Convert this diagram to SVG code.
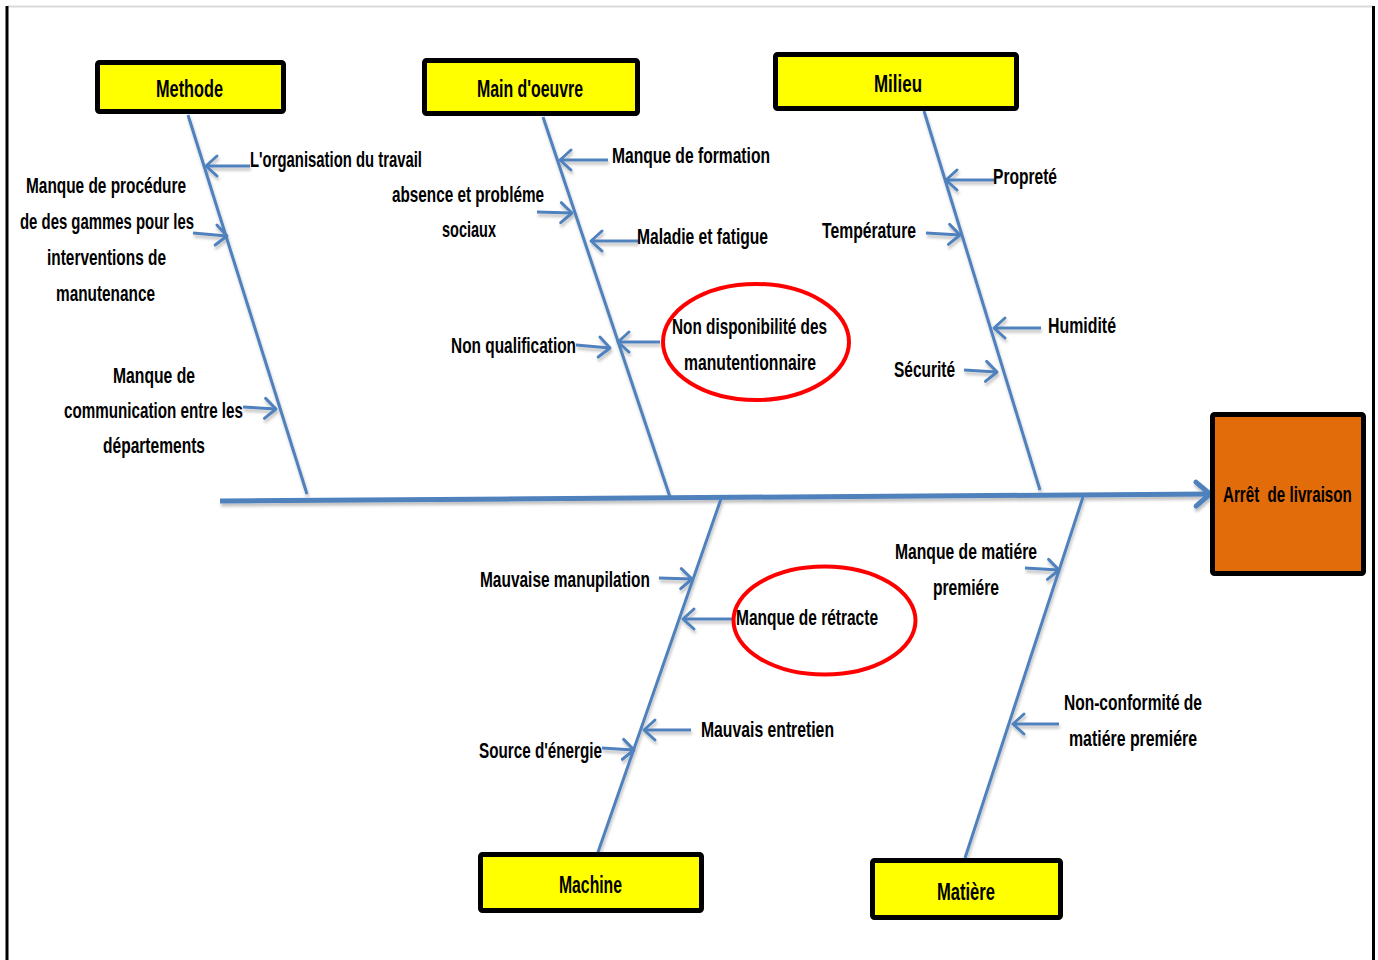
<svg xmlns="http://www.w3.org/2000/svg" width="1378" height="960" viewBox="0 0 1378 960">
  <style>
    .frame { stroke-width: 3; fill: none; }
    .cat { fill: #FFFF00; stroke: #000; stroke-width: 5; }
    .effect { fill: #E36C0A; stroke: #000; stroke-width: 5; }
    .bone { stroke: #4F81BD; stroke-width: 3; fill: none; }
    .spine { stroke: #4F81BD; stroke-width: 5; fill: none; }
    .ring { fill: none; stroke: #FF0000; stroke-width: 4; }
    .t { font-family: "Liberation Sans Narrow", "Liberation Sans", Arial, sans-serif; font-weight: bold; font-size: 22px; fill: #000; }
    .h { font-size: 24px; }
  </style>
  <defs>
    <marker id="tip" markerUnits="userSpaceOnUse" orient="auto" overflow="visible" markerWidth="1" markerHeight="1">
      <path d="M-11,-10 L0,0 L-11,10" fill="none" stroke="#4F81BD" stroke-width="3" stroke-linecap="round" stroke-linejoin="round"/>
    </marker>
    <marker id="tipBig" markerUnits="userSpaceOnUse" orient="auto" overflow="visible" markerWidth="1" markerHeight="1">
      <path d="M-14,-12 L0,0 L-14,12" fill="none" stroke="#4F81BD" stroke-width="5" stroke-linecap="round" stroke-linejoin="round"/>
    </marker>
    <filter id="shadow" x="-5%" y="-5%" width="110%" height="115%">
      <feDropShadow dx="1" dy="3" stdDeviation="1.5" flood-color="#000" flood-opacity="0.25"/>
    </filter>
  </defs>

  <rect width="1378" height="960" fill="#fff"/>

  <!-- page frame -->
  <g id="frame">
    <line x1="8" y1="6.5" x2="1373" y2="6.5" stroke="#D9D9D9" stroke-width="2"/>
    <line class="frame" x1="7" y1="6" x2="7" y2="960" stroke="#000"/>
    <line class="frame" x1="1373.5" y1="6" x2="1373.5" y2="960" stroke="#000" stroke-width="4"/>
  </g>

  <!-- spine, bones and cause arrows -->
  <g id="connectors" filter="url(#shadow)">
    <line class="spine" x1="220" y1="501" x2="1210" y2="494" marker-end="url(#tipBig)"/>

    <line class="bone" x1="188" y1="115" x2="307" y2="494"/>
    <line class="bone" x1="543" y1="117" x2="670" y2="497"/>
    <line class="bone" x1="924" y1="111" x2="1040" y2="490"/>
    <line class="bone" x1="722" y1="496" x2="597" y2="855"/>
    <line class="bone" x1="1083" y1="497" x2="965" y2="858"/>

    <line class="bone" x1="250" y1="166" x2="206" y2="166" marker-end="url(#tip)"/>
    <line class="bone" x1="193" y1="233" x2="227" y2="236" marker-end="url(#tip)"/>
    <line class="bone" x1="243" y1="407" x2="276" y2="409" marker-end="url(#tip)"/>

    <line class="bone" x1="608" y1="160" x2="560" y2="160" marker-end="url(#tip)"/>
    <line class="bone" x1="537" y1="212" x2="572" y2="213" marker-end="url(#tip)"/>
    <line class="bone" x1="638" y1="241" x2="591" y2="241" marker-end="url(#tip)"/>
    <line class="bone" x1="576" y1="345" x2="610" y2="348" marker-end="url(#tip)"/>
    <line class="bone" x1="660" y1="342" x2="618" y2="342" marker-end="url(#tip)"/>

    <line class="bone" x1="994" y1="180" x2="946" y2="180" marker-end="url(#tip)"/>
    <line class="bone" x1="926" y1="233" x2="960" y2="235" marker-end="url(#tip)"/>
    <line class="bone" x1="1041" y1="328" x2="994" y2="328" marker-end="url(#tip)"/>
    <line class="bone" x1="964" y1="370" x2="997" y2="372" marker-end="url(#tip)"/>

    <line class="bone" x1="659" y1="578" x2="692" y2="579" marker-end="url(#tip)"/>
    <line class="bone" x1="732" y1="619" x2="683" y2="619" marker-end="url(#tip)"/>
    <line class="bone" x1="691" y1="730" x2="644" y2="730" marker-end="url(#tip)"/>
    <line class="bone" x1="602" y1="748" x2="634" y2="750" marker-end="url(#tip)"/>

    <line class="bone" x1="1025" y1="568" x2="1059" y2="570" marker-end="url(#tip)"/>
    <line class="bone" x1="1059" y1="724" x2="1013" y2="724" marker-end="url(#tip)"/>
  </g>

  <!-- category boxes -->
  <g id="methode">
    <rect class="cat" x="97.5" y="62.5" width="186" height="49" rx="2"/>
    <text class="t h" x="156" y="97" textLength="67" lengthAdjust="spacingAndGlyphs">Methode</text>
  </g>
  <g id="main-d-oeuvre">
    <rect class="cat" x="424.5" y="60.5" width="213" height="53" rx="2"/>
    <text class="t h" x="477" y="97" textLength="106" lengthAdjust="spacingAndGlyphs">Main d'oeuvre</text>
  </g>
  <g id="milieu">
    <rect class="cat" x="775.5" y="54.5" width="241" height="54" rx="2"/>
    <text class="t h" x="874" y="92" textLength="48" lengthAdjust="spacingAndGlyphs">Milieu</text>
  </g>
  <g id="machine">
    <rect class="cat" x="480.5" y="854.5" width="221" height="56" rx="2"/>
    <text class="t h" x="559" y="893" textLength="63" lengthAdjust="spacingAndGlyphs">Machine</text>
  </g>
  <g id="matiere">
    <rect class="cat" x="872.5" y="860.5" width="188" height="57" rx="2"/>
    <text class="t h" x="937" y="900" textLength="58" lengthAdjust="spacingAndGlyphs">Matière</text>
  </g>

  <!-- effect -->
  <g id="arret-de-livraison">
    <rect class="effect" x="1212.5" y="414.5" width="151" height="159" rx="2"/>
    <text class="t" transform="translate(1223 502) scale(0.7 1)" x="0" y="0" textLength="184" lengthAdjust="spacingAndGlyphs" xml:space="preserve">Arrêt  de livraison</text>
  </g>

  <!-- causes: Methode -->
  <g id="cause-organisation">
    <text class="t" x="250" y="167" textLength="172" lengthAdjust="spacingAndGlyphs">L'organisation du travail</text>
  </g>
  <g id="cause-procedure">
    <text class="t" x="26" y="193" textLength="160" lengthAdjust="spacingAndGlyphs">Manque de procédure</text>
    <text class="t" x="20" y="229" textLength="174" lengthAdjust="spacingAndGlyphs">de des gammes pour les</text>
    <text class="t" x="47" y="265" textLength="119" lengthAdjust="spacingAndGlyphs">interventions de</text>
    <text class="t" x="56" y="301" textLength="99" lengthAdjust="spacingAndGlyphs">manutenance</text>
  </g>
  <g id="cause-communication">
    <text class="t" x="113" y="383" textLength="82" lengthAdjust="spacingAndGlyphs">Manque de</text>
    <text class="t" x="64" y="418" textLength="179" lengthAdjust="spacingAndGlyphs">communication entre les</text>
    <text class="t" x="103" y="453" textLength="102" lengthAdjust="spacingAndGlyphs">départements</text>
  </g>

  <!-- causes: Main d'oeuvre -->
  <g id="cause-formation">
    <text class="t" x="612" y="163" textLength="158" lengthAdjust="spacingAndGlyphs">Manque de formation</text>
  </g>
  <g id="cause-absence">
    <text class="t" x="392" y="202" textLength="152" lengthAdjust="spacingAndGlyphs">absence et probléme</text>
    <text class="t" x="442" y="237" textLength="54" lengthAdjust="spacingAndGlyphs">sociaux</text>
  </g>
  <g id="cause-maladie">
    <text class="t" x="637" y="244" textLength="131" lengthAdjust="spacingAndGlyphs">Maladie et fatigue</text>
  </g>
  <g id="cause-qualification">
    <text class="t" x="451" y="353" textLength="125" lengthAdjust="spacingAndGlyphs">Non qualification</text>
  </g>
  <g id="cause-disponibilite">
    <ellipse class="ring" cx="756" cy="342" rx="93" ry="58"/>
    <text class="t" x="672" y="334" textLength="155" lengthAdjust="spacingAndGlyphs">Non disponibilité des</text>
    <text class="t" x="684" y="370" textLength="132" lengthAdjust="spacingAndGlyphs">manutentionnaire</text>
  </g>

  <!-- causes: Milieu -->
  <g id="cause-proprete">
    <text class="t" x="993" y="184" textLength="64" lengthAdjust="spacingAndGlyphs">Propreté</text>
  </g>
  <g id="cause-temperature">
    <text class="t" x="822" y="238" textLength="94" lengthAdjust="spacingAndGlyphs">Température</text>
  </g>
  <g id="cause-humidite">
    <text class="t" x="1048" y="333" textLength="68" lengthAdjust="spacingAndGlyphs">Humidité</text>
  </g>
  <g id="cause-securite">
    <text class="t" x="894" y="377" textLength="61" lengthAdjust="spacingAndGlyphs">Sécurité</text>
  </g>

  <!-- causes: Machine -->
  <g id="cause-manupilation">
    <text class="t" x="480" y="587" textLength="170" lengthAdjust="spacingAndGlyphs">Mauvaise manupilation</text>
  </g>
  <g id="cause-retracte">
    <ellipse class="ring" cx="824.5" cy="620.5" rx="91" ry="54"/>
    <text class="t" x="736" y="625" textLength="142" lengthAdjust="spacingAndGlyphs">Manque de rétracte</text>
  </g>
  <g id="cause-entretien">
    <text class="t" x="701" y="737" textLength="133" lengthAdjust="spacingAndGlyphs">Mauvais entretien</text>
  </g>
  <g id="cause-energie">
    <text class="t" x="479" y="758" textLength="123" lengthAdjust="spacingAndGlyphs">Source d'énergie</text>
  </g>

  <!-- causes: Matière -->
  <g id="cause-manque-matiere">
    <text class="t" x="895" y="559" textLength="142" lengthAdjust="spacingAndGlyphs">Manque de matiére</text>
    <text class="t" x="933" y="595" textLength="66" lengthAdjust="spacingAndGlyphs">premiére</text>
  </g>
  <g id="cause-non-conformite">
    <text class="t" x="1064" y="710" textLength="138" lengthAdjust="spacingAndGlyphs">Non-conformité de</text>
    <text class="t" x="1069" y="746" textLength="128" lengthAdjust="spacingAndGlyphs">matiére premiére</text>
  </g>
</svg>
